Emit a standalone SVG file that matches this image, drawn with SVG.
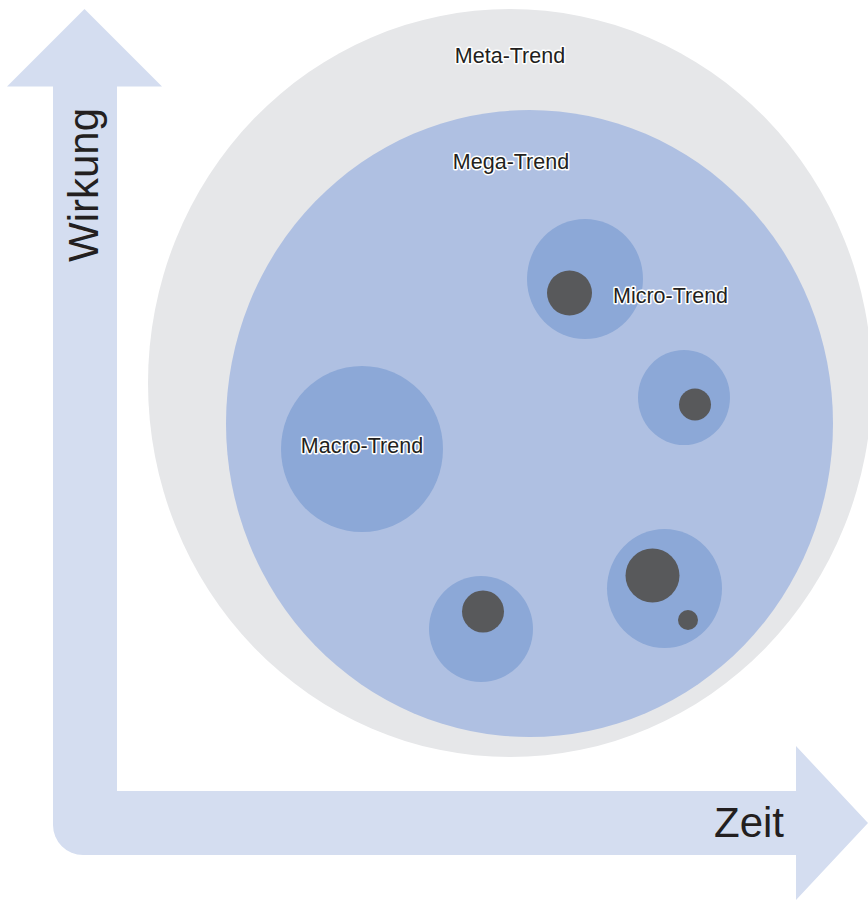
<svg xmlns="http://www.w3.org/2000/svg" width="868" height="900" viewBox="0 0 868 900">
  <style>
    .axis { fill: #D4DDF0; }
    .axislabel { font-family: "Liberation Sans", Arial, sans-serif; font-size: 42px; fill: #231F20; }
    .meta { fill: #E6E7E9; }
    .mega { fill: #AFC0E2; }
    .trend { fill: #8CA8D7; }
    .dot { fill: #58595B; }
    .label { font-family: "Liberation Sans", Arial, sans-serif; font-size: 21.5px; fill: #231F20; stroke: #FFFFFF; stroke-width: 3px; stroke-linejoin: round; paint-order: stroke; }
  </style>
  <rect width="868" height="900" fill="#FFFFFF"/>

  <g id="axes">
    <path class="axis" d="M 84.5 9 L 162 86.5 L 117 86.5 L 117 791 L 796 791 L 796 746 L 868 823 L 796 900 L 796 855 L 83 855 A 30 30 0 0 1 53 825 L 53 86.5 L 7 86.5 Z"/>
    <text class="axislabel" transform="translate(98,262) rotate(-90)">Wirkung</text>
    <text class="axislabel" x="714" y="837">Zeit</text>
  </g>

  <g id="meta-trend">
    <ellipse class="meta" cx="510" cy="383" rx="362" ry="374"/>
    <text class="label" x="510" y="63" text-anchor="middle">Meta-Trend</text>
  </g>

  <g id="mega-trend">
    <ellipse class="mega" cx="529.5" cy="423.5" rx="303.5" ry="313.5"/>
    <text class="label" x="511" y="169" text-anchor="middle">Mega-Trend</text>
  </g>

  <g id="macro-trend">
    <ellipse class="trend" cx="362" cy="449" rx="81" ry="83"/>
    <text class="label" x="362" y="453" text-anchor="middle">Macro-Trend</text>
  </g>

  <g id="micro-trend-1">
    <ellipse class="trend" cx="585" cy="279" rx="58" ry="60"/>
    <circle class="dot" cx="569.5" cy="293" r="22.5"/>
    <text class="label" x="613" y="303">Micro-Trend</text>
  </g>

  <g id="micro-trend-2">
    <ellipse class="trend" cx="684" cy="397.5" rx="46" ry="47.5"/>
    <circle class="dot" cx="695" cy="404.5" r="16"/>
  </g>

  <g id="micro-trend-3">
    <ellipse class="trend" cx="664.5" cy="588.5" rx="57.5" ry="59.5"/>
    <circle class="dot" cx="652.5" cy="575.5" r="27"/>
    <circle class="dot" cx="688" cy="620" r="10"/>
  </g>

  <g id="micro-trend-4">
    <ellipse class="trend" cx="481" cy="629" rx="52" ry="53"/>
    <circle class="dot" cx="483" cy="611.5" r="21"/>
  </g>

  <g id="connectors"></g>
</svg>
